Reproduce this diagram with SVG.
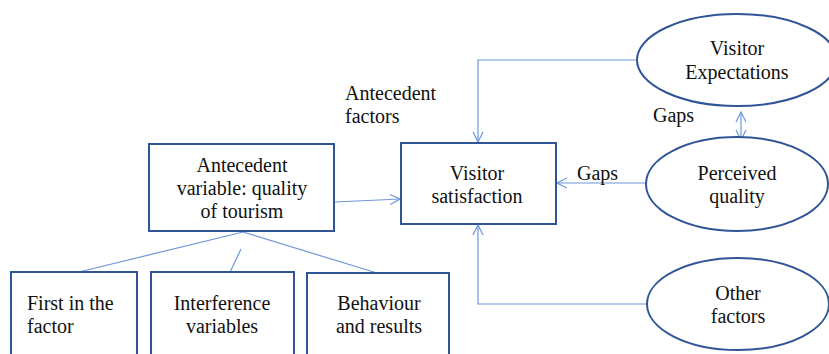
<svg xmlns="http://www.w3.org/2000/svg" width="829" height="354" viewBox="0 0 829 354">
<style>
.box{fill:#fff;stroke:#2F5597;stroke-width:2}
.ell{fill:#fff;stroke:#2F5597;stroke-width:2}
.con{fill:none;stroke:#6F97DA;stroke-width:1.2}
.c{text-anchor:middle}
</style>
<defs>
<marker id="arr" viewBox="0 0 12 12" refX="11" refY="6" markerWidth="12" markerHeight="12" markerUnits="userSpaceOnUse" orient="auto-start-reverse">
<path d="M1,1 L11,6 L1,11" fill="none" stroke="#6F97DA" stroke-width="1.2"/>
</marker>
</defs>
<rect width="829" height="354" fill="#fff"/>
<g id="connectors">
<line class="con" x1="243" y1="232" x2="79" y2="272"/>
<line class="con" x1="243" y1="232" x2="377" y2="273"/>
<line class="con" x1="241" y1="249" x2="222" y2="289"/>
<line class="con" x1="335" y1="202" x2="400" y2="199" marker-end="url(#arr)"/>
<polyline class="con" points="637,60 478,60 478,142" marker-end="url(#arr)"/>
<line class="con" x1="646" y1="183" x2="557" y2="183" marker-end="url(#arr)"/>
<polyline class="con" points="646,304 478,304 478,225" marker-end="url(#arr)"/>
<line class="con" x1="741" y1="112" x2="741" y2="140" marker-start="url(#arr)" marker-end="url(#arr)"/>
</g>
<g font-family="Liberation Serif, serif" font-size="20" fill="#111">
<g id="antecedent">
<rect class="box" x="149" y="144" width="185" height="87"/>
<text class="c" x="242" y="172">Antecedent</text>
<text class="c" x="242" y="195">variable: quality</text>
<text class="c" x="242" y="218">of tourism</text>
</g>
<g id="first">
<rect class="box" x="11" y="272" width="126" height="90"/>
<text x="27" y="310">First in the</text>
<text x="27" y="333">factor</text>
</g>
<g id="interference">
<rect class="box" x="151" y="272" width="143" height="90"/>
<text class="c" x="222" y="310">Interference</text>
<text class="c" x="222" y="333">variables</text>
</g>
<g id="behaviour">
<rect class="box" x="307" y="273" width="142" height="90"/>
<text class="c" x="379" y="310">Behaviour</text>
<text class="c" x="379" y="333">and results</text>
</g>
<g id="satisfaction">
<rect class="box" x="401" y="143" width="155" height="81"/>
<text class="c" x="477" y="180">Visitor</text>
<text class="c" x="477" y="203">satisfaction</text>
</g>
<g id="expectations">
<ellipse class="ell" cx="737" cy="60" rx="100" ry="46"/>
<text class="c" x="737" y="55">Visitor</text>
<text class="c" x="737" y="79">Expectations</text>
</g>
<g id="perceived">
<ellipse class="ell" cx="737" cy="184" rx="91" ry="47"/>
<text class="c" x="737" y="180">Perceived</text>
<text class="c" x="737" y="203">quality</text>
</g>
<g id="other">
<ellipse class="ell" cx="738" cy="304" rx="91" ry="46"/>
<text class="c" x="738" y="300">Other</text>
<text class="c" x="738" y="323">factors</text>
</g>
<g id="labels">
<text x="345" y="100">Antecedent</text>
<text x="345" y="123">factors</text>
<text x="577" y="180">Gaps</text>
<text x="653" y="122">Gaps</text>
</g>
</g>
</svg>
